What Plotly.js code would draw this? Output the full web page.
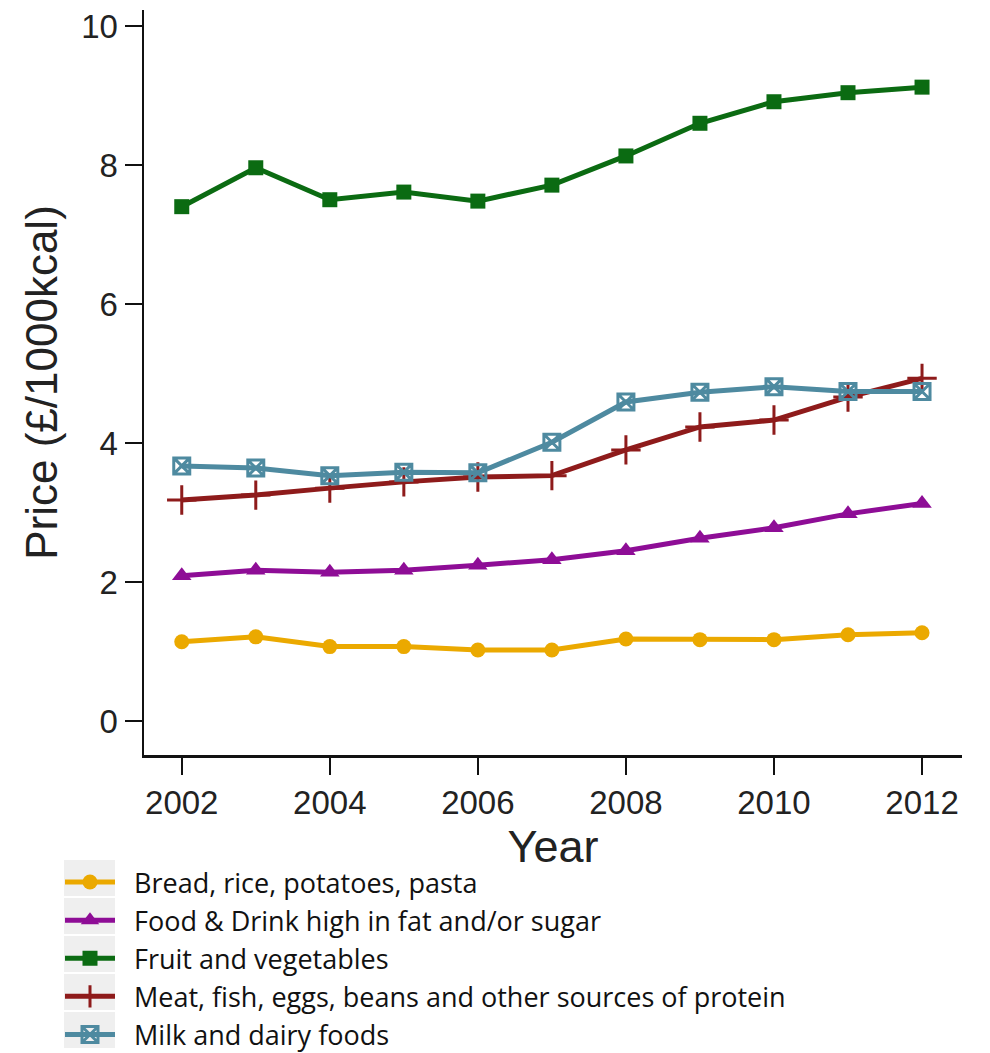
<!DOCTYPE html>
<html>
<head>
<meta charset="utf-8">
<script src="https://cdn.plot.ly/plotly-3.0.1.min.js"></script>
<style>html,body{margin:0;padding:0;background:#fff;}#chart{width:990px;height:1053px;}</style>
</head>
<body>
<div id="chart"></div>
<script>
const years = [2002, 2003, 2004, 2005, 2006, 2007, 2008, 2009, 2010, 2011, 2012];
const seriesNames = [
  "Bread, rice, potatoes, pasta",
  "Food & Drink high in fat and/or sugar",
  "Fruit and vegetables",
  "Meat, fish, eggs, beans and other sources of protein",
  "Milk and dairy foods"
];
const bread = [1.14, 1.21, 1.07, 1.07, 1.02, 1.02, 1.18, 1.17, 1.17, 1.24, 1.27];
const fatSugar = [2.09, 2.17, 2.14, 2.17, 2.24, 2.32, 2.45, 2.63, 2.78, 2.98, 3.13];
const fruitVeg = [7.40, 7.96, 7.50, 7.61, 7.48, 7.71, 8.13, 8.60, 8.91, 9.04, 9.12];
const meat = [3.18, 3.25, 3.35, 3.44, 3.51, 3.53, 3.90, 4.23, 4.33, 4.66, 4.93];
const milk = [3.67, 3.64, 3.53, 3.58, 3.57, 4.01, 4.59, 4.73, 4.81, 4.74, 4.74];
const yTicks = [0, 2, 4, 6, 8, 10];
const xTicks = [2002, 2004, 2006, 2008, 2010, 2012];

const colors = ["#EBA900", "#8E0D96", "#0B6B12", "#8E1B1B", "#4E8AA0"];
const values = [bread, fatSugar, fruitVeg, meat, milk];
const markers = [
  {symbol: "circle", size: 15},
  {symbol: "triangle-up", size: 17},
  {symbol: "square", size: 15},
  {symbol: "cross-thin-open", size: 21, line: {width: 3}},
  {symbol: "square-x-open", size: 16, line: {width: 3}}
];

const pad = "\u00a0\u00a0";
const traces = values.map((v, i) => ({
  type: "scatter",
  mode: "lines+markers",
  x: years,
  y: v,
  name: pad + seriesNames[i],
  line: {color: colors[i], width: 5},
  marker: Object.assign({color: colors[i]}, markers[i], markers[i].line ? {line: Object.assign({color: colors[i]}, markers[i].line)} : {})
}));

const legendTop = 858;
const plotBottom = 755, plotH = 745, plotL = 144, plotW = 818;
const shapes = [];
for (let i = 0; i < 5; i++) {
  const top = 860 + i * 38;
  shapes.push({
    type: "rect", xref: "paper", yref: "paper", layer: "below",
    x0: (64 - plotL) / plotW, x1: (115 - plotL) / plotW,
    y0: (plotBottom - top) / plotH, y1: (plotBottom - top - 36) / plotH,
    fillcolor: "#EFEFEF", line: {width: 0}
  });
}

const axisFont = "Liberation Sans, Arial, sans-serif";
const layout = {
  width: 990,
  height: 1053,
  margin: {l: 144, r: 28, t: 10, b: 298, autoexpand: false},
  paper_bgcolor: "#fff",
  plot_bgcolor: "#fff",
  showlegend: true,
  font: {family: axisFont, color: "#1a1a1a"},
  xaxis: {
    range: [2001.49, 2012.54],
    tickvals: xTicks,
    ticktext: xTicks.map(String),
    ticks: "outside", ticklen: 17, tickwidth: 2.5, tickcolor: "#111",
    showline: true, linewidth: 2.5, linecolor: "#111",
    showgrid: false, zeroline: false,
    tickfont: {size: 33, family: axisFont, color: "#222"},
    title: {text: "Year", font: {size: 45, family: axisFont, color: "#222"}, standoff: 6}
  },
  yaxis: {
    range: [-0.49, 10.23],
    tickvals: yTicks,
    ticktext: yTicks.map(String),
    ticks: "outside", ticklen: 17, tickwidth: 2.5, tickcolor: "#111",
    showline: true, linewidth: 2.5, linecolor: "#111",
    showgrid: false, zeroline: false,
    tickfont: {size: 33, family: axisFont, color: "#222"},
    title: {text: "Price (£/1000kcal)", font: {size: 44, family: axisFont, color: "#222"}, standoff: 10}
  },
  legend: {
    x: (60 - plotL) / plotW, xanchor: "left",
    y: (plotBottom - legendTop) / plotH, yanchor: "top",
    bgcolor: "rgba(0,0,0,0)",
    font: {size: 27, family: "Open Sans, sans-serif", color: "#111"},
    itemwidth: 50,
    tracegroupgap: 0
  },
  shapes: shapes
};

Plotly.newPlot("chart", traces, layout, {displayModeBar: false, staticPlot: true});
</script>
</body>
</html>
